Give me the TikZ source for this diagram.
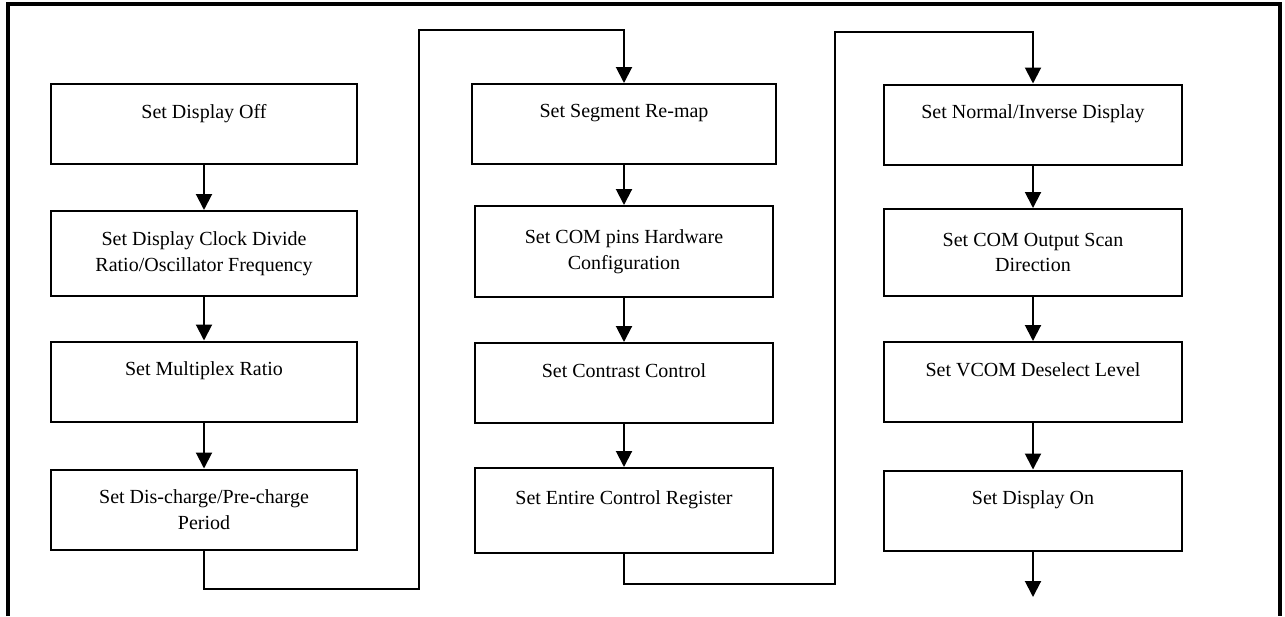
\documentclass[tikz,border=0pt]{standalone}
\usepackage{fontspec}
\setmainfont{Liberation Serif}
\usepackage{tikz}
\usetikzlibrary{positioning,arrows.meta}

\begin{document}
\begin{tikzpicture}[
    x=0.5pt, y=-0.5pt,
    font=\fontsize{10}{12.8}\selectfont,
    >={Triangle[width=8pt,length=8pt]},
    box/.style={draw, line width=1pt, minimum width=#1, minimum height=40pt,
                inner sep=2pt, align=center},
    box/.default=149pt,
    arr/.style={->, line width=1pt},
    frame/.style={line width=1.6pt},
]
\useasboundingbox (0,0) rectangle (1285,616);

% ---------- outer frame (open at the bottom) ----------
\draw[frame] (8,616) -- (8,4) -- (1280,4) -- (1280,616);

% ---------- first column ----------
\node[box=153pt] (off) at (204,124)   {Set Display Off\\~};
\node[box=153pt, minimum height=42.5pt] (clk) at (204,253.5)
  {Set Display Clock Divide\\Ratio/Oscillator Frequency};
\node[box=153pt] (mux) at (204,381.5) {Set Multiplex Ratio\\~};
\node[box=153pt] (chg) at (204,509.5) {Set Dis-charge/Pre-charge\\Period};

\draw[arr] (off) -- (clk);
\draw[arr] (clk) -- (mux);
\draw[arr] (mux) -- (chg);

% ---------- second column ----------
\node[box=152pt] (seg) at (624,124)   {Set Segment Re-map\\~};
\node[box, minimum height=45.5pt] (com) at (624,251.5)
  {Set COM pins Hardware\\Configuration};
\node[box] (con) at (624,383)   {Set Contrast Control\\~};
\node[box, minimum height=42.5pt] (ent) at (624,510.5) {Set Entire Control Register\\~};

\draw[arr] (seg) -- (com);
\draw[arr] (com) -- (con);
\draw[arr] (con) -- (ent);

% ---------- third column ----------
\node[box] (inv)  at (1033,124.5) {Set Normal/Inverse Display\\~};
\node[box, minimum height=43.5pt] (scan) at (1033,252.5)
  {Set COM Output Scan\\Direction};
\node[box] (vcom) at (1033,382)   {Set VCOM Deselect Level\\~};
\node[box] (on)   at (1033,510.5) {Set Display On\\~};

\draw[arr] (inv)  -- (scan);
\draw[arr] (scan) -- (vcom);
\draw[arr] (vcom) -- (on);

% ---------- links between the columns ----------
\coordinate (c1) at (419,589);
\coordinate (c2) at (419,30);
\coordinate (c3) at (835,584);
\coordinate (c4) at (835,32);
\coordinate (end) at (1030,597);

\draw[arr] (chg.south) |- (c1) -- (c2) -| (seg.north);
\draw[arr] (ent.south) |- (c3) -- (c4) -| (inv.north);
\draw[arr] (on.south) -- (on.south |- end);

\end{tikzpicture}
\end{document}
